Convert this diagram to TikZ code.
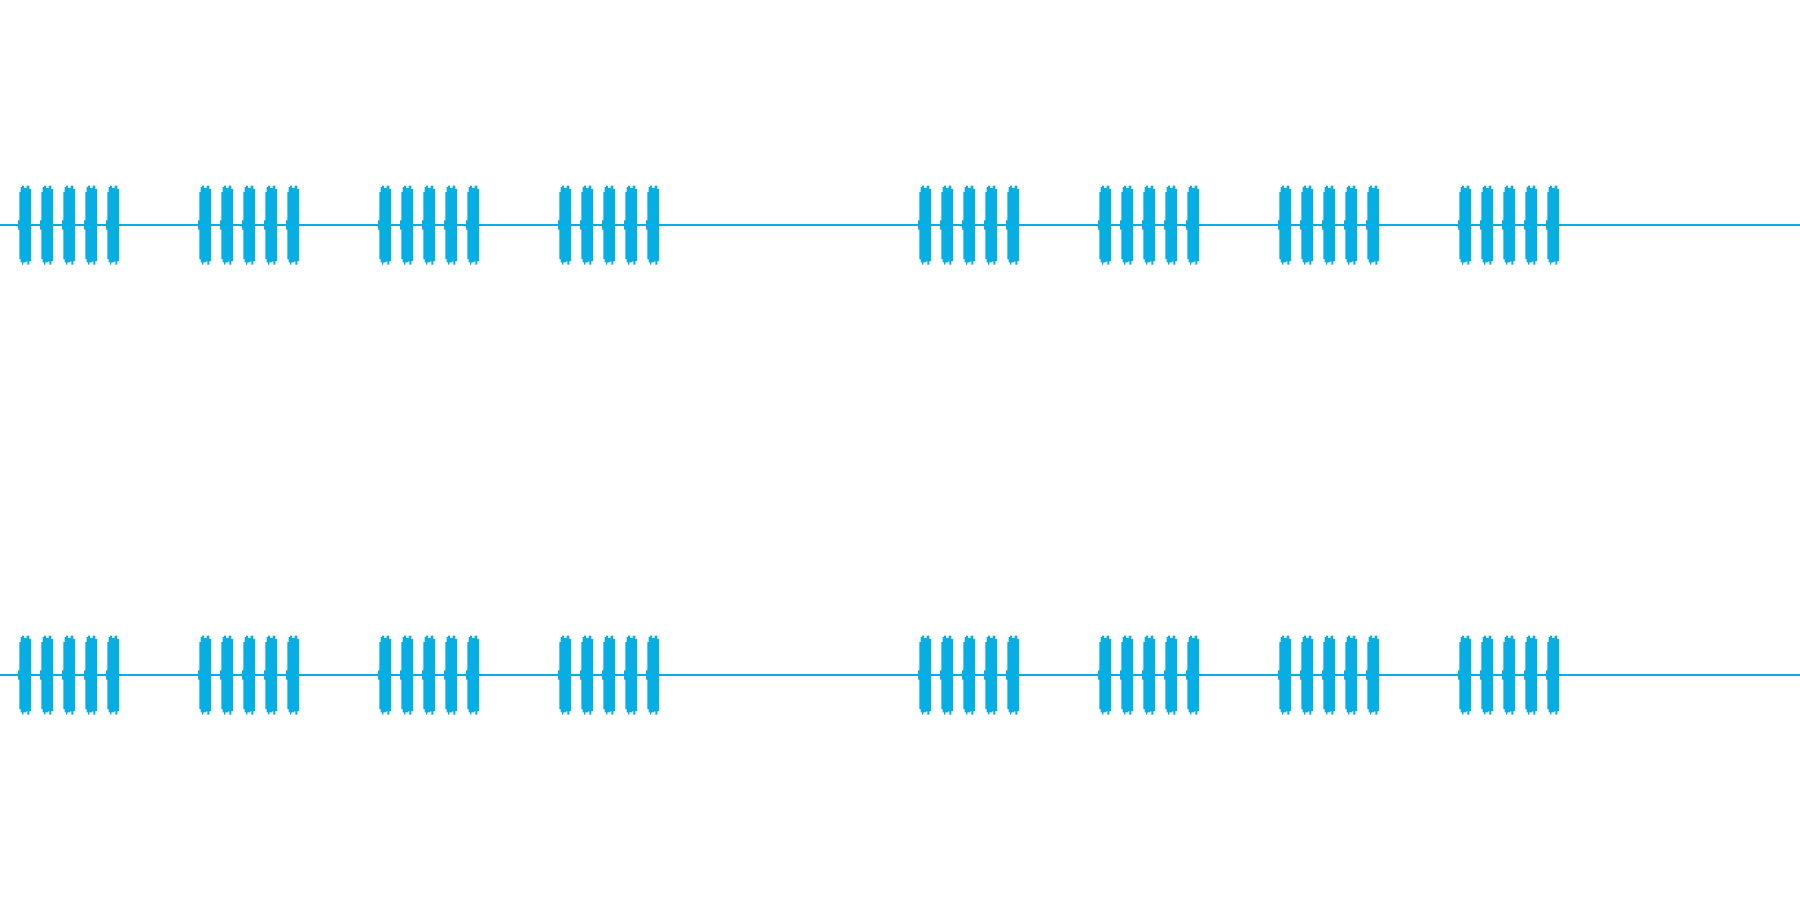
\documentclass[tikz,border=0pt]{standalone}
\definecolor{wave}{RGB}{7,174,228}
\tikzset{
  baseline/.style={draw=wave,line width=1.2pt},
  burstshape/.style={fill=wave,draw=none},
  pics/burst/.style={code={
    \fill[burstshape] (0,-4.7) -- (1.3,-4.7) -- (1.3,-33) -- (2.7,-33) -- (2.7,-38) -- (4,-38) -- (4,-39.3) -- (6,-39.3) -- (6,-37) -- (8.7,-37) -- (8.7,-39.3) -- (11.3,-39.3) -- (11.3,-36) -- (13,-36) -- (13,36) -- (11.3,36) -- (11.3,39.7) -- (9.3,39.7) -- (9.3,36.3) -- (8,36.3) -- (8,37.3) -- (5.3,37.3) -- (5.3,39.7) -- (4,39.7) -- (4,37.3) -- (2.7,37.3) -- (2.7,34) -- (1.3,34) -- (1.3,4.7) -- (0,4.7) -- cycle;
  }}
}
\begin{document}
\begin{tikzpicture}[x=1pt,y=-1pt]
\useasboundingbox (0,0) rectangle (1800,900);
\foreach \cy in {225,675}{
  \draw[baseline] (0,\cy) -- (1800,\cy);
  \foreach \gx in {18,198,378,558,918,1098,1278,1458}{
    \foreach \k in {0,22,44,66,88}{
      \pic at ({\gx+\k},\cy) {burst};
    }
  }
}
\end{tikzpicture}
\end{document}
